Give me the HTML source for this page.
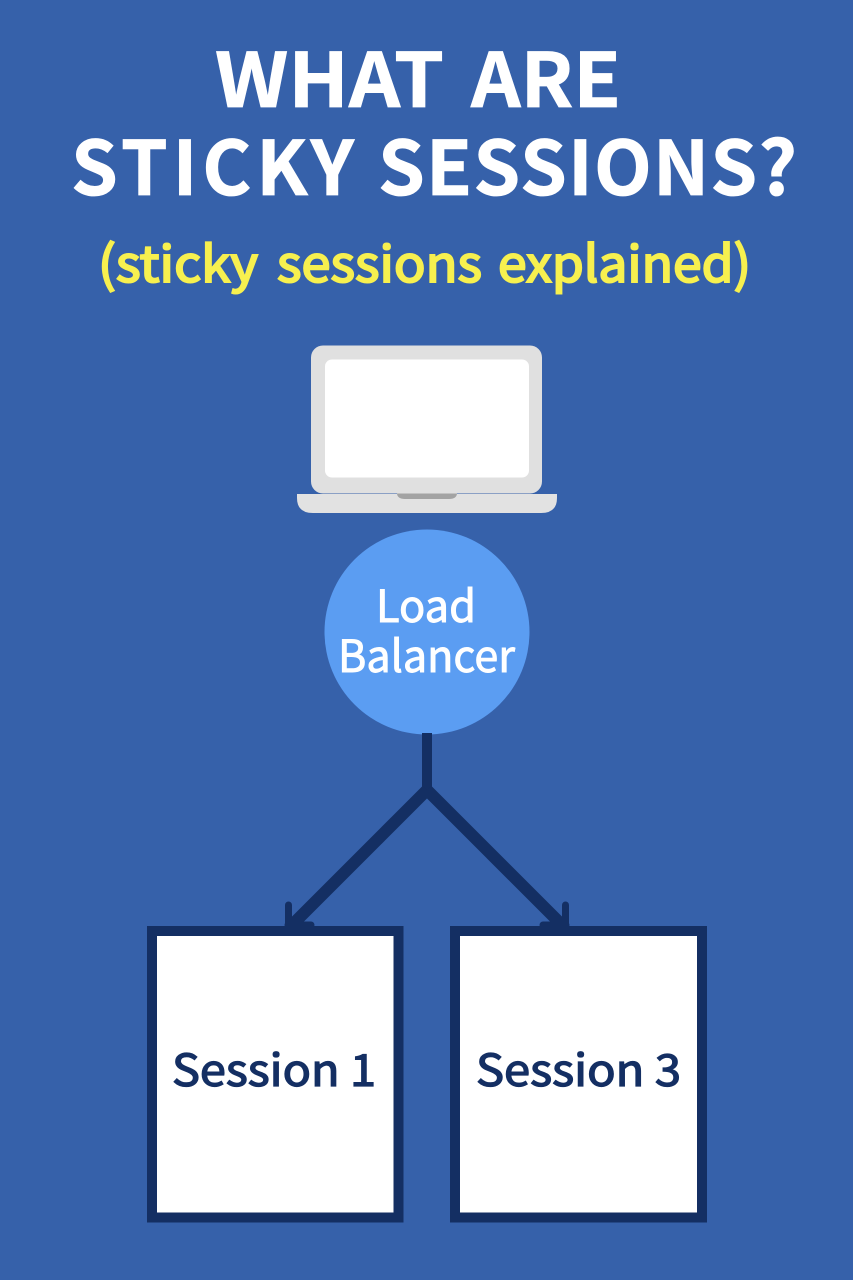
<!DOCTYPE html>
<html><head><meta charset="utf-8"><style>html,body{margin:0;padding:0;background:#3661aa}svg{display:block}</style></head><body>
<svg width="853" height="1280" viewBox="0 0 853 1280" xmlns="http://www.w3.org/2000/svg">
<rect width="853" height="1280" fill="#3661aa"/>
<g font-family="'Noto Sans CJK JP','DejaVu Sans',sans-serif" font-weight="700" fill="#fff" font-size="75" stroke="#fff" stroke-width="0.800">
<text x="215" y="107" textLength="229" lengthAdjust="spacingAndGlyphs">WHAT</text>
<text x="471" y="107" textLength="150" lengthAdjust="spacingAndGlyphs">ARE</text>
<text x="71" y="195" textLength="283" lengthAdjust="spacing">STICKY</text>
<text x="378" y="195" textLength="419" lengthAdjust="spacing">SESSIONS?</text>
</g>
<g font-family="'Noto Sans CJK JP','DejaVu Sans',sans-serif" font-weight="400" font-size="50" fill="#f7f04f" stroke="#f7f04f" stroke-width="2">
<text x="98" y="282" textLength="160" lengthAdjust="spacingAndGlyphs">(sticky</text>
<text x="277" y="282" textLength="205" lengthAdjust="spacingAndGlyphs">sessions</text>
<text x="498" y="282" textLength="253" lengthAdjust="spacingAndGlyphs">explained)</text>
</g>
<path d="M297 494H557V498Q557 513 541 513H313Q297 513 297 498Z" fill="#e2e2e2"/>
<path d="M397 493H457Q457 499 449 499H405Q397 499 397 493Z" fill="#a3a3a3"/>
<rect x="311" y="345.500" width="231" height="148" rx="12" fill="#e0e0e0"/>
<rect x="325" y="359.500" width="204" height="118" rx="7" fill="#fff"/>
<circle cx="427" cy="632" r="102.500" fill="#5b9df2"/>
<g font-family="'Noto Sans CJK JP','DejaVu Sans',sans-serif" font-weight="400" font-size="44" fill="#fff" stroke="#fff" stroke-width="0.900">
<text x="376" y="622" textLength="100" lengthAdjust="spacingAndGlyphs">Load</text>
<text x="338" y="672" textLength="177" lengthAdjust="spacingAndGlyphs">Balancer</text>
</g>
<g stroke="#142f63" fill="none">
<path d="M427 733V790" stroke-width="10"/>
<path d="M427 790L293 924M427 790L561 924" stroke-width="12"/>
<path d="M288.500 905V928M565.500 905V928M288 925H311M566 925H543" stroke-width="7" stroke-linecap="round"/>
</g>
<rect x="152" y="931" width="246.500" height="286.500" fill="#fff" stroke="#142f63" stroke-width="10"/>
<rect x="455" y="931" width="247" height="286.500" fill="#fff" stroke="#142f63" stroke-width="10"/>
<g font-family="'Noto Sans CJK JP','DejaVu Sans',sans-serif" font-weight="400" font-size="44" fill="#142f63" stroke="#142f63" stroke-width="1.300">
<text x="172" y="1086" textLength="204" lengthAdjust="spacingAndGlyphs">Session 1</text>
<text x="476" y="1086" textLength="205" lengthAdjust="spacingAndGlyphs">Session 3</text>
</g>
</svg>
</body></html>
